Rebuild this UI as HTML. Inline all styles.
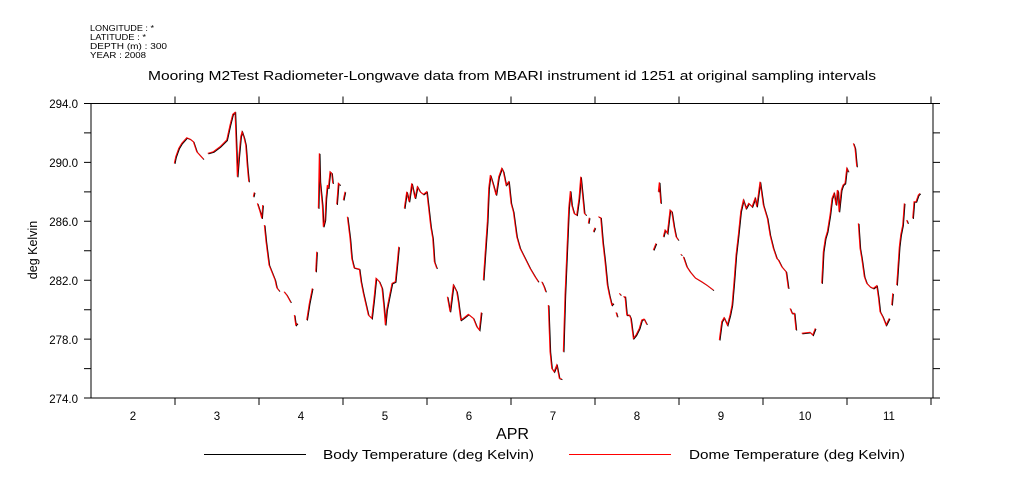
<!DOCTYPE html>
<html><head><meta charset="utf-8"><style>
html,body{margin:0;padding:0;background:#fff;}
svg{display:block;font-family:"Liberation Sans",sans-serif;}
</style></head><body>
<svg width="1009" height="504" viewBox="0 0 1009 504" xmlns="http://www.w3.org/2000/svg">
<rect width="1009" height="504" fill="#fff"/>
<g font-size="8" fill="#000">
<text x="90" y="31" textLength="64" lengthAdjust="spacingAndGlyphs">LONGITUDE : *</text>
<text x="90" y="40" textLength="56" lengthAdjust="spacingAndGlyphs">LATITUDE : *</text>
<text x="90" y="49" textLength="77" lengthAdjust="spacingAndGlyphs">DEPTH (m) : 300</text>
<text x="90" y="58" textLength="56" lengthAdjust="spacingAndGlyphs">YEAR : 2008</text>
</g>
<text x="148" y="80" font-size="12.5" textLength="728" lengthAdjust="spacingAndGlyphs">Mooring M2Test Radiometer-Longwave data from MBARI instrument id 1251 at original sampling intervals</text>
<rect x="91" y="103.5" width="842" height="294.5" fill="none" stroke="#000" stroke-width="1"/>
<g stroke="#000" stroke-width="1">
<path d="M84 103.5H91M84 132.9H91M84 162.4H91M84 191.9H91M84 221.3H91M84 250.8H91M84 280.2H91M84 309.7H91M84 339.1H91M84 368.6H91M84 398H91"/>
<path d="M933 103.5H940M933 132.9H940M933 162.4H940M933 191.9H940M933 221.3H940M933 250.8H940M933 280.2H940M933 309.7H940M933 339.1H940M933 368.6H940M933 398H940"/>
<path d="M175 398V405M259 398V405M343 398V405M427 398V405M511 398V405M595 398V405M679 398V405M763 398V405M847 398V405M931 398V405"/>
<path d="M175 103.5V96.5M259 103.5V96.5M343 103.5V96.5M427 103.5V96.5M511 103.5V96.5M595 103.5V96.5M679 103.5V96.5M763 103.5V96.5M847 103.5V96.5M931 103.5V96.5"/>
</g>
<g font-size="11.5" text-anchor="end">
<text x="78" y="108">294.0</text><text x="78" y="167">290.0</text><text x="78" y="226">286.0</text>
<text x="78" y="285">282.0</text><text x="78" y="344">278.0</text><text x="78" y="403">274.0</text>
</g>
<g font-size="11.5" text-anchor="middle">
<text x="133" y="420">2</text><text x="217" y="420">3</text><text x="301" y="420">4</text><text x="385" y="420">5</text>
<text x="469" y="420">6</text><text x="553" y="420">7</text><text x="637" y="420">8</text><text x="721" y="420">9</text>
<text x="805" y="420">10</text><text x="889" y="420">11</text>
</g>
<text x="496" y="439" font-size="16" textLength="33" lengthAdjust="spacingAndGlyphs">APR</text>
<text transform="translate(37,250) rotate(-90)" font-size="12.5" text-anchor="middle">deg Kelvin</text>
<line x1="204" y1="454.5" x2="306" y2="454.5" stroke="#000"/>
<text x="323" y="459" font-size="12.5" textLength="211" lengthAdjust="spacingAndGlyphs">Body Temperature (deg Kelvin)</text>
<line x1="569" y1="454.5" x2="671" y2="454.5" stroke="#f00"/>
<text x="689" y="459" font-size="12.5" textLength="216" lengthAdjust="spacingAndGlyphs">Dome Temperature (deg Kelvin)</text>
<defs>
<g id="d">
<polyline points="174.3,163.3 175.7,156.7 178.7,148.3 181.7,143.3 186.7,137.7 190,139 193.3,141.7 196.7,151.7 203.3,159"/>
<polyline points="207.7,153.3 213.3,151.7 220,146.7 226.7,140 230,125 232.7,114.3 235,112.3 236,138.3 237.3,176.7 238.7,158.3 240.7,136.7 242,131.7 244,137.7 245.7,145 247.3,166.7 248.7,181.7"/>
<polyline points="253.3,196.7 254.3,192.3"/>
<polyline points="257.3,203.3 260,211.7 261.7,218.3 262.7,205"/>
<polyline points="264.3,225 266,241.7 267.7,255 269,265 271.7,271.7 275,280 276.7,287.7 279.3,291"/>
<polyline points="284,291.7 286.7,295 290.7,302.3"/>
<polyline points="294.3,315 295.7,325 297.3,323.3"/>
<polyline points="306.7,320 309.3,303.3 312.3,288.3"/>
<polyline points="315.7,271.7 316.7,251.7"/>
<polyline points="318.3,208.3 319.3,153.3 320,181.7 322.3,205 323.3,226.7 325,220 326,198.3 327.3,185 328.3,188.3 330,171.7 331.7,173.3 332.7,183.3"/>
<polyline points="336.7,204.3 338.3,183.3 340,185"/>
<polyline points="343.3,200 345,191.7"/>
<polyline points="347.3,216.7 350,238.3 351.7,258.3 354,267.7 359.3,269 361,281.7 363.3,293.3 366,305 368.3,315 371.7,318.3 374,298.3 376,278.3 379.3,281.7 382,288.3 384,308.3 385.3,325 386.7,310 389.3,296.7 392,283.3 395.3,281.7 397.3,261.7 398.7,246.7"/>
<polyline points="404.3,208.3 406.7,191.7 409,201.7 411.7,183.3 415,198.3 417.3,186.7 420,191.7 423.3,194.3 426.7,191.7 429,211.7 430.7,226.7 432.7,238.3 434.3,261.7 436.7,268.3"/>
<polyline points="447.3,296.7 450,311.7 453.3,285 456.7,291.7 458.3,301.7 460.7,320 463.3,318.3 468.3,314.3 473.3,318.3 476.7,326.7 479.3,330 481.3,312.3"/>
<polyline points="483.3,280 485,255 487.3,221.7 488.7,188.3 490.3,175 493.3,185 496,195 498.7,176.7 501.7,168.3 503.3,171.7 506,185 508.7,181.7 511,203.3 513.3,211.7 516.7,236.7 520,248.3 525,258.3 530,268.3 535,276.7 538.3,281.7"/>
<polyline points="541.7,281.7 544,286.7 545.7,291.7"/>
<polyline points="548.3,305 550,351.7 551.7,368.3 554,371.7 556.7,365 559.3,378.3 561.7,379"/>
<polyline points="563.3,351.7 565,295 566.7,255 568.7,208.3 570.3,191 571.7,205 574,213.3 576.7,215 579,198.3 580.7,176.7 582.7,196.7 584.3,213.3 586,215"/>
<polyline points="588.3,223.3 589.3,217.7"/>
<polyline points="593.3,231.7 595,227.7"/>
<polyline points="598.3,216.7 600.7,217.7 602.7,241.7 605,261.7 607.3,285 609.3,295 611.7,305 613.3,303.3"/>
<polyline points="616,312.3 617.3,316.7"/>
<polyline points="619.3,293.3 620.7,295"/>
<polyline points="623.3,296.7 625,296.7 626.7,315 629.3,315 630.7,318.3 633.3,338.3 636,335 639.3,328.3 641.7,320 644,319 646.7,324.3"/>
<polyline points="653.3,250 656,243.3"/>
<polyline points="658.3,191.7 659.3,182.3 660.7,203.3"/>
<polyline points="663.3,236.7 665,230 667.3,233.3 670,210 671.7,211.7 674,226.7 676,236.7 678.3,240"/>
<polyline points="680.7,254.3 681.7,255"/>
<polyline points="683.3,256.7 686.7,266.7 690,271.7 695,277.7 701.7,281.7 706.7,285 713.3,290"/>
<polyline points="719.3,340 721.7,321.7 724,317.7 727.3,325 730,315 732,305 734,281.7 736,255 738.3,235 740.7,211.7 743.3,200 746,208.3 748.7,203.3 752,206.7 755,198.3 756.7,206.7 760,181.7 763.3,205 767.3,218.3 770,235 773.3,248.3 776.7,258.3 778.3,260 781.7,266.7 786,271.7 788.3,288.3"/>
<polyline points="790,308.3 792,313.3 794.3,313.3 796,330"/>
<polyline points="801.7,333.3 810,332.3 812.7,335 815.3,328.3"/>
<polyline points="821.7,283.3 823.3,251.7 825.3,238.3 827.3,231.7 830,215 832,198.3 834,193.3 836,205 837.3,190 838,192 839,211.7 841.3,190 843,185 845,183.3 846.7,168.3 848.3,171.7"/>
<polyline points="853.3,143.3 855,148.3 856.7,166.7"/>
<polyline points="858.3,223.3 860,248.3 861.7,258.3 864.3,276.7 866.7,283.3 870,286.7 873.3,288.3 876.7,285.7 878.3,296.7 880,311.7 882.7,316.7 886,325 889.3,318.3"/>
<polyline points="891.7,305 892.7,293.3"/>
<polyline points="896.7,285 899.3,246.7 900.7,235 902.7,225 904.3,203.3"/>
<polyline points="906.7,220 907.7,223.3"/>
<polyline points="912.7,218.3 914,201.7 916,201.7 918.3,195 920,193.3"/>
</g>
</defs>
<use href="#d" fill="none" stroke="#000" stroke-width="1" transform="translate(0.7,0.6)"/>
<use href="#d" fill="none" stroke="#f00" stroke-width="1"/>
</svg>
</body></html>
